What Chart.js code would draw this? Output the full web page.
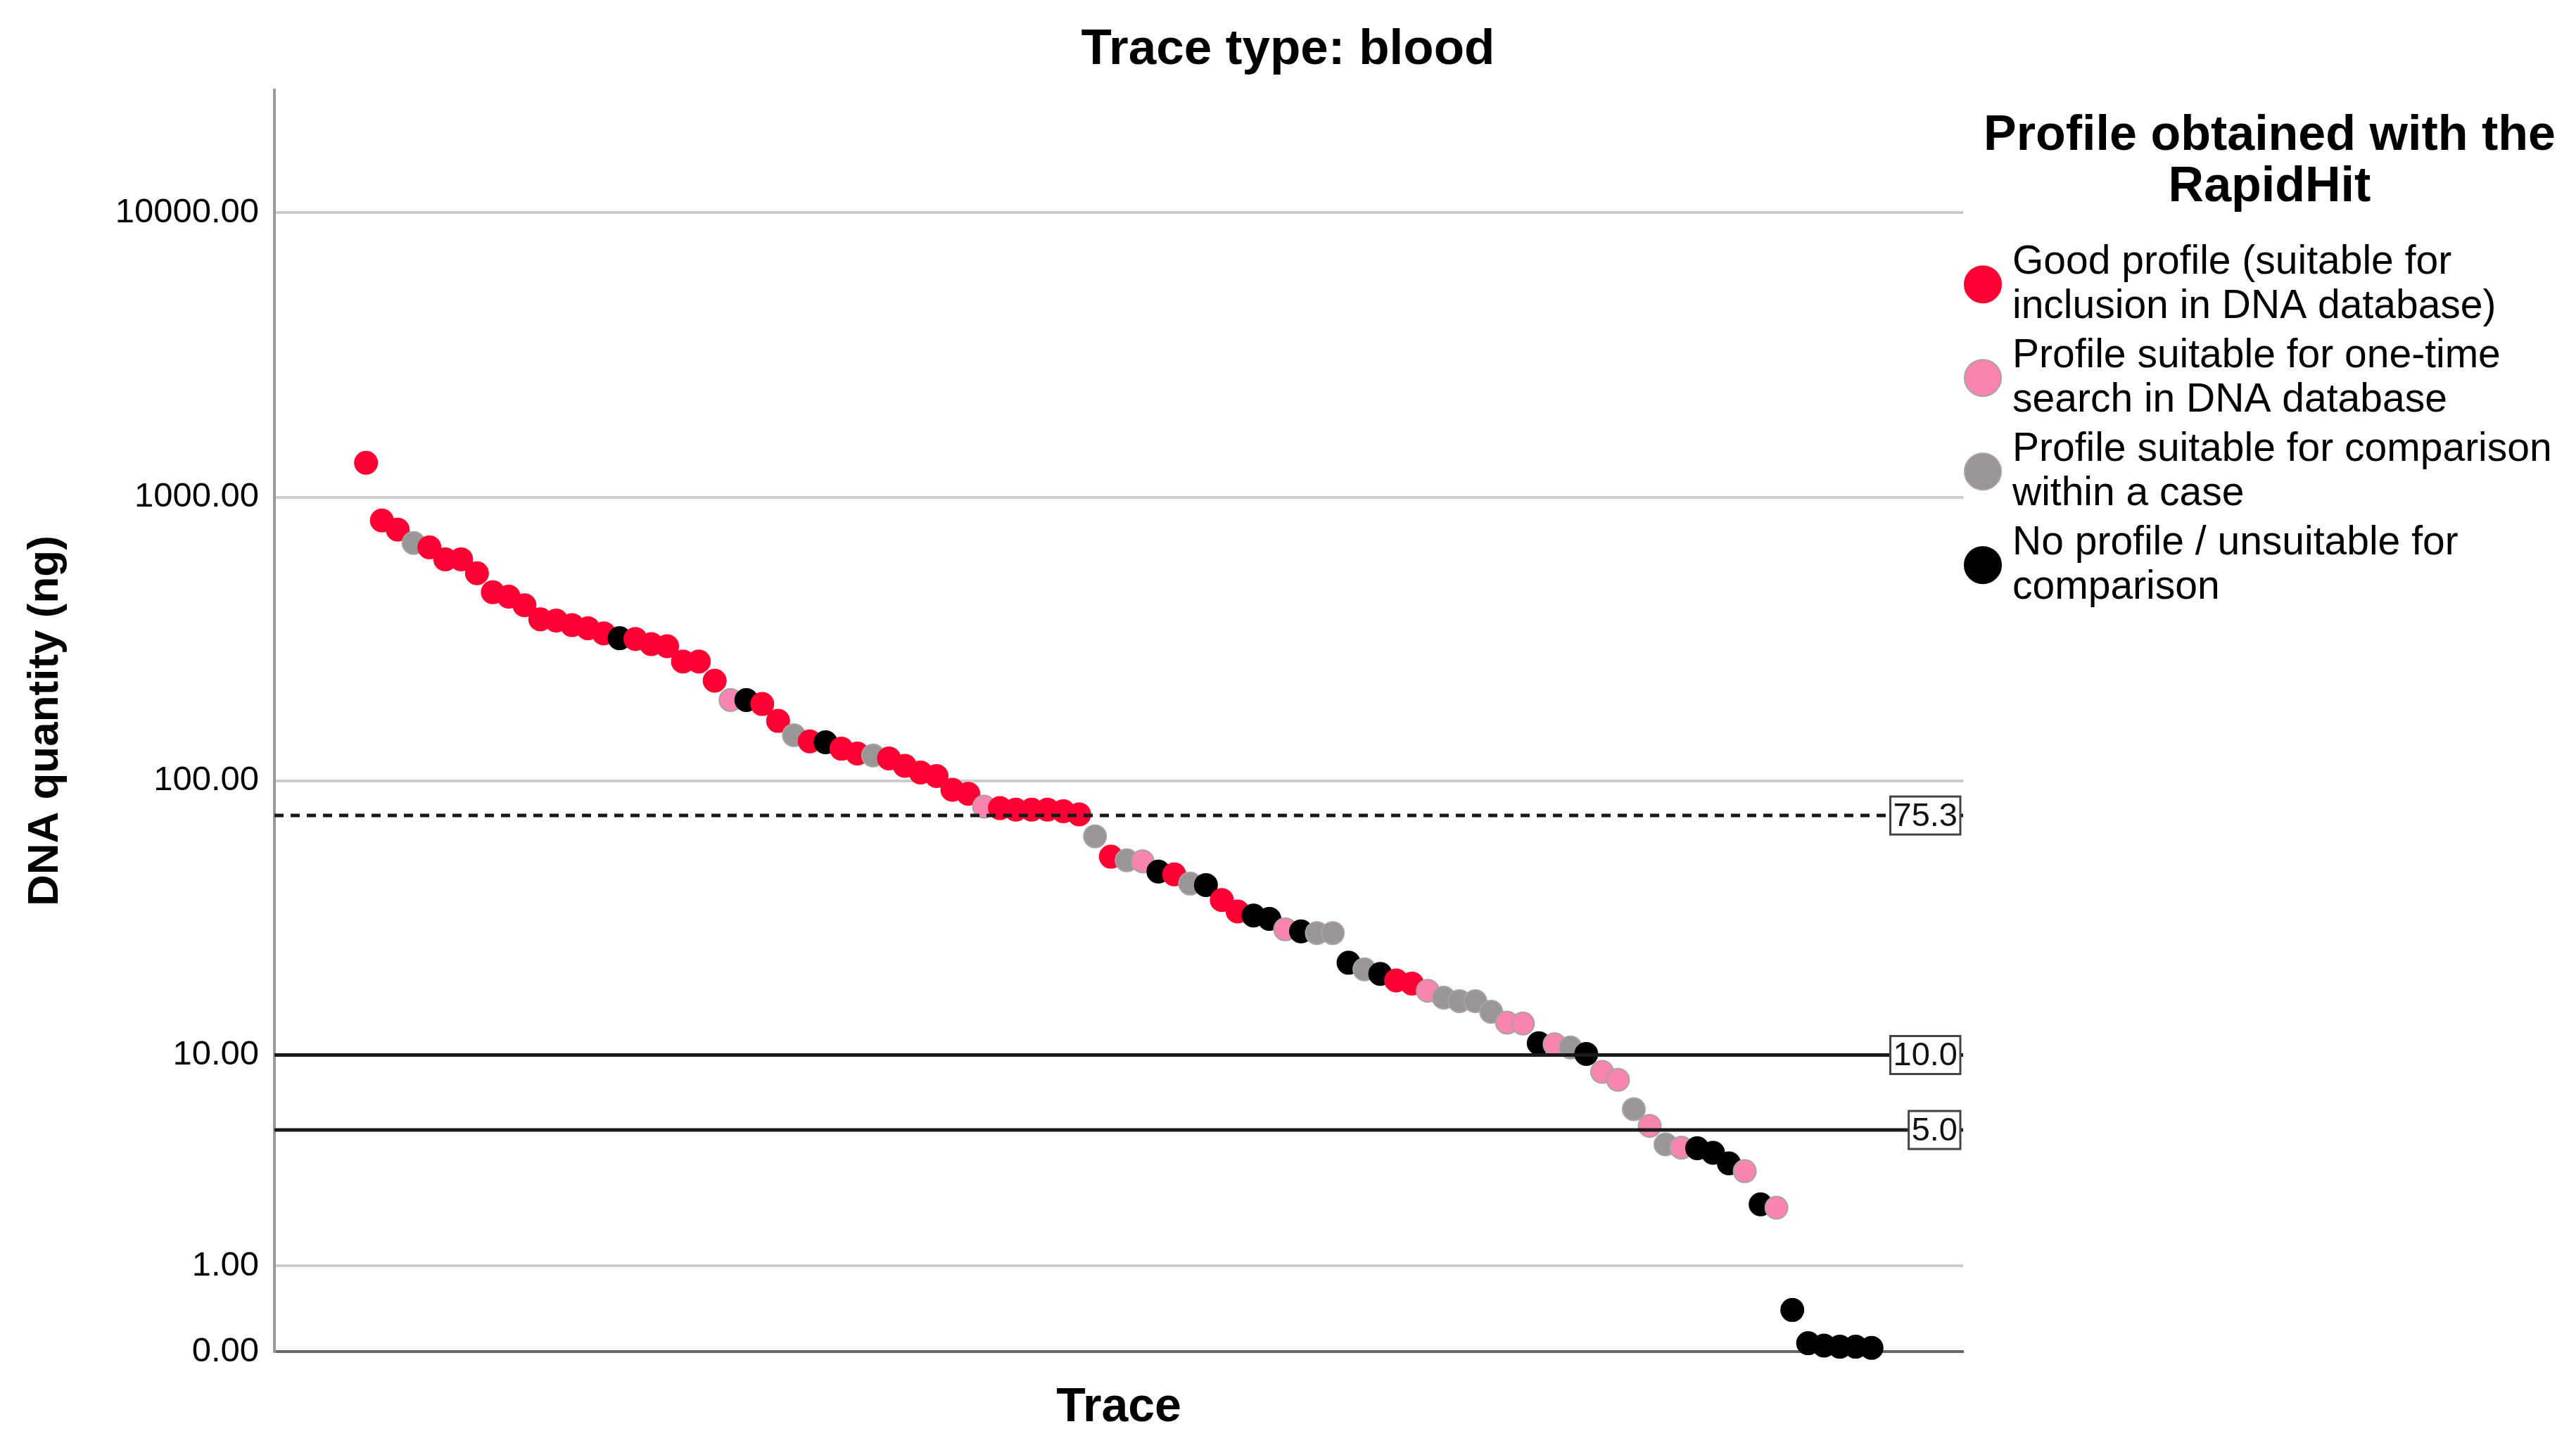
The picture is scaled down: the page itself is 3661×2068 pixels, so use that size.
<!DOCTYPE html>
<html>
<head>
<meta charset="utf-8">
<script src="https://cdn.jsdelivr.net/npm/chart.js@4.4.1/dist/chart.umd.min.js"></script>
<style>
html, body { margin: 0; padding: 0; background: #ffffff; }
#wrap { width: 3661px; height: 2068px; position: relative; }
</style>
</head>
<body>
<div id="wrap"><canvas id="c"></canvas></div>
<script>
// ---------- DATA ----------
const chartTitle = 'Trace type: blood';
const xAxisTitle = 'Trace';
const yAxisTitle = 'DNA quantity (ng)';
const legendTitle = ['Profile obtained with the', 'RapidHit'];
const categoryLabels = [
  ['Good profile (suitable for', 'inclusion in DNA database)'],
  ['Profile suitable for one-time', 'search in DNA database'],
  ['Profile suitable for comparison', 'within a case'],
  ['No profile / unsuitable for', 'comparison']
];
// DNA quantity (ng) per trace, in plotted order
const dnaQuantity = [
  1322, 828, 769, 690, 666, 605, 605, 540, 463, 447,
  417, 372, 368, 355, 346, 332, 319, 317, 304, 299,
  264, 264, 226, 193, 193, 187, 163, 145, 138, 137,
  130, 125, 123, 120, 113, 107, 104, 93, 90, 81,
  80, 79, 79, 79, 78, 76, 63.5, 53.7, 52.1, 51.7,
  47.5, 46.4, 43, 42.5, 37.5, 34.1, 33.0, 32.1, 29.4, 28.9,
  28.5, 28.5, 22.2, 21.0, 20.2, 19.1, 18.6, 17.5, 16.5, 16.0,
  16.0, 14.6, 13.3, 13.2, 11.1, 11.0, 10.7, 10.1, 8.6, 8.0,
  6.1, 5.2, 4.34, 4.2, 4.18, 3.99, 3.58, 3.3, 2.29, 2.2,
  0.40, 0.07, 0.05, 0.04, 0.04, 0.03
];
// profile category per trace (index into categoryLabels)
const profileCategory = [
  0,0,0,2,0,0,0,0,0,0,
  0,0,0,0,0,0,3,0,0,0,
  0,0,0,1,3,0,0,2,0,3,
  0,0,2,0,0,0,0,0,0,1,
  0,0,0,0,0,0,2,0,2,1,
  3,0,2,3,0,0,3,3,1,3,
  2,2,3,2,3,0,0,1,2,2,
  2,2,1,1,3,1,2,3,1,1,
  2,1,2,1,3,3,3,1,3,1,
  3,3,3,3,3,3
];
const yTickValues = [0, 1, 10, 100, 1000, 10000];
const referenceValues = [75.3, 10.0, 5.0];
const referenceLabels = ['75.3', '10.0', '5.0'];
const axisTopValue = 26900;

// ---------- STYLE ----------
const FONT = "'Liberation Sans', Arial, Helvetica, sans-serif";
const categoryFill = ['#FF0033', '#F984B0', '#9A9696', '#000000'];
const categoryStroke = ['#FF0033', '#A9A2A4', '#A8A4A4', '#000000'];
const referenceDashed = [true, false, false];

// ---------- SAFE-LOG SCALE (log10(v + 1)) ----------
const LinearBase = Chart.LinearScale || Chart.registry.getScale('linear');
class SafeLogScale extends LinearBase {
  determineDataLimits() {
    this.min = 0;
    this.max = Math.log10(axisTopValue + 1);
  }
  buildTicks() {
    return yTickValues.map(v => ({ value: v }));
  }
  getPixelForValue(value) {
    if (value === null || value === undefined || isNaN(value)) return NaN;
    return this.getPixelForDecimal((Math.log10(value + 1) - this._startValue) / this._valueRange);
  }
  getValueForPixel(pixel) {
    return Math.pow(10, this._startValue + this.getDecimalForPixel(pixel) * this._valueRange) - 1;
  }
}
SafeLogScale.id = 'safelog';
SafeLogScale.defaults = LinearBase.defaults;
Chart.register(SafeLogScale);

// ---------- PLUGINS ----------
const refLinePlugin = {
  id: 'refLines',
  afterDatasetsDraw(chart) {
    const { ctx, chartArea } = chart;
    const ys = chart.scales.y;
    referenceValues.forEach((v, i) => {
      const py = ys.getPixelForValue(v);
      ctx.save();
      ctx.strokeStyle = '#1a1a1a';
      ctx.lineWidth = 5;
      ctx.setLineDash(referenceDashed[i] ? [13, 10] : []);
      ctx.beginPath();
      ctx.moveTo(chartArea.left, py);
      ctx.lineTo(chartArea.right, py);
      ctx.stroke();
      ctx.setLineDash([]);
      ctx.font = '47px ' + FONT;
      const w = ctx.measureText(referenceLabels[i]).width + 8;
      const h = 54;
      const bx = chartArea.right - 4 - w;
      const by = py - h / 2;
      ctx.fillStyle = '#ffffff';
      ctx.fillRect(bx, by, w, h);
      ctx.strokeStyle = '#444444';
      ctx.lineWidth = 3;
      ctx.strokeRect(bx, by, w, h);
      ctx.fillStyle = '#111111';
      ctx.textAlign = 'center';
      ctx.textBaseline = 'middle';
      ctx.fillText(referenceLabels[i], bx + w / 2, py + 2);
      ctx.restore();
    });
  }
};

const legendPlugin = {
  id: 'profileLegend',
  afterDraw(chart) {
    const ctx = chart.ctx;
    const box = chart.scales.legendSpace;
    const top = chart.chartArea.top;
    const cx = (box.left + box.right) / 2;
    ctx.save();
    ctx.fillStyle = '#000000';
    ctx.textAlign = 'center';
    ctx.textBaseline = 'middle';
    ctx.font = 'bold 70px ' + FONT;
    legendTitle.forEach((t, i) => ctx.fillText(t, cx, top + 66 + i * 73));
    ctx.textAlign = 'left';
    ctx.font = '57px ' + FONT;
    categoryLabels.forEach((lines, k) => {
      const cy = top + 276 + k * 133;
      ctx.beginPath();
      ctx.arc(box.left + 28, cy, 26, 0, Math.PI * 2);
      ctx.fillStyle = categoryFill[k];
      ctx.fill();
      ctx.lineWidth = 2;
      ctx.strokeStyle = categoryStroke[k];
      ctx.stroke();
      ctx.fillStyle = '#000000';
      lines.forEach((t, j) => ctx.fillText(t, box.left + 70, cy - 31 + j * 63));
    });
    ctx.restore();
  }
};

// ---------- CHART ----------
const xPad = 5.78;
new Chart(document.getElementById('c'), {
  type: 'scatter',
  data: {
    datasets: [{
      label: 'DNA quantity',
      data: dnaQuantity.map((v, i) => ({ x: i + 1, y: v })),
      pointRadius: 16,
      pointHoverRadius: 16,
      pointBackgroundColor: profileCategory.map(c => categoryFill[c]),
      pointBorderColor: profileCategory.map(c => categoryStroke[c]),
      pointBorderWidth: 2,
      clip: false
    }]
  },
  options: {
    responsive: true,
    maintainAspectRatio: false,
    devicePixelRatio: 1,
    animation: false,
    events: [],
    layout: { padding: 0 },
    plugins: {
      legend: { display: false },
      tooltip: { enabled: false },
      title: {
        display: true,
        text: chartTitle,
        color: '#000000',
        font: { family: FONT, size: 71, weight: 'bold' },
        padding: { top: 29, bottom: 14 }
      }
    },
    scales: {
      x: {
        type: 'linear',
        position: 'bottom',
        min: 1 - xPad,
        max: dnaQuantity.length + xPad,
        ticks: { display: false },
        grid: { display: false, drawTicks: false },
        border: { display: true, color: '#666666', width: 4 },
        title: {
          display: true,
          text: xAxisTitle,
          color: '#000000',
          font: { family: FONT, size: 68, weight: 'bold' },
          padding: { top: 0, bottom: 26 }
        },
        afterFit: s => { s.height = 147; }
      },
      y: {
        type: 'safelog',
        position: 'left',
        ticks: {
          color: '#000000',
          font: { family: FONT, size: 49 },
          padding: 22,
          autoSkip: false,
          callback: v => Number(v).toFixed(2)
        },
        grid: { color: '#cccccc', lineWidth: 4, drawTicks: false },
        border: { display: true, color: '#999999', width: 4 },
        title: {
          display: true,
          text: yAxisTitle,
          color: '#000000',
          font: { family: FONT, size: 62, weight: 'bold' },
          padding: { top: 28, bottom: 0 }
        },
        afterFit: s => { s.width = 390; }
      },
      legendSpace: {
        type: 'linear',
        position: 'right',
        display: true,
        ticks: { display: false },
        grid: { display: false, drawTicks: false },
        border: { display: false },
        afterFit: s => { s.width = 871; }
      }
    }
  },
  plugins: [refLinePlugin, legendPlugin]
});
</script>
</body>
</html>
